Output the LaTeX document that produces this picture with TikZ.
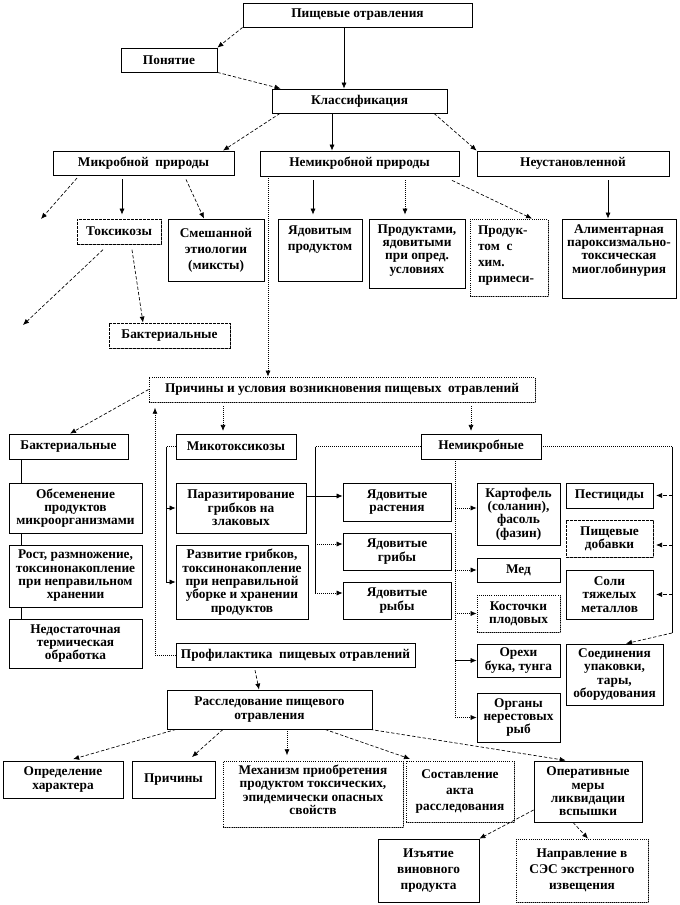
\documentclass[tikz,border=0pt]{standalone}
\usepackage{fontspec}
\setmainfont{Liberation Serif}
\usetikzlibrary{arrows.meta,shadows}
\tikzset{
 box/.style={draw=black,line width=0.6pt,fill=white,inner sep=0pt,
   font=\bfseries\fontsize{10}{10}\selectfont,
   drop shadow={shadow xshift=0.7pt,shadow yshift=-0.7pt,fill=black!45,opacity=1}},
 dbox/.style={densely dotted},
 hbox/.style={dash pattern=on 2pt off 1pt},
 con/.style={line width=0.5pt,-{Latex[length=4.5pt,width=3.8pt]}},
 ln/.style={line width=0.5pt},
 dsh/.style={dash pattern=on 2.5pt off 1.5pt},
 dtt/.style={densely dotted},
}
\newcommand\bx[8][c]{%
 \pgfmathsetmacro\mybw{(#6-#4)*0.75}%
 \pgfmathsetmacro\mybh{(#7-#5)*0.75}%
 \node[box,#2] (#3) at ({(#4+#6)/2},{(#5+#7)/2}) {\parbox[c][\mybh pt][#1]{\mybw pt}{\centering #8\par}};%
}
\begin{document}
\begin{tikzpicture}[x=0.75pt,y=-0.75pt]
\useasboundingbox (0,0) rectangle (679,905);
\foreach \v in {21,68,70,77,103,122,132,143,155,166,176,186,188,204,223,255,259,268,280,287,313,315,325,332,344,370,405,415,434,452,455,471,532,567,573,588,608,626,672}
  \coordinate (c\v) at (\v,0);
\foreach \v in {496,508,544,545,593,633,810}
  \coordinate (r\v) at (0,\v);
\coordinate (f1) at (41,219);
\coordinate (f2) at (23,325);

% top levels
\bx{}{pisch}{243}{3}{472}{27}{Пищевые отравления}
\bx{}{pon}{121}{48}{217}{72}{Понятие}
\bx{}{klass}{272}{89}{447}{113}{Классификация}
\bx{}{mikr}{53}{151}{234}{175}{Микробной\ \ природы}
\bx{}{nemikr}{260}{151}{459}{176}{Немикробной природы}
\bx{}{neust}{477}{151}{669}{176}{Неустановленной}
\bx{hbox}{toks}{77}{219}{161}{244}{Токсикозы}
\bx{}{smesh}{168}{219}{264}{281}{Смешанной\\[2pt]этиологии\\[2pt](миксты)}
\bx[t]{}{yadprod}{278}{219}{362}{281}{\vspace*{5pt}Ядовитым\\[2pt]продуктом}
\bx[t]{}{prodopr}{369}{219}{465}{288}{\vspace*{4pt}Продуктами,\\ядовитыми\\при опред.\\условиях}
\bx[t]{dbox}{prodhim}{470}{219}{548}{296}{\raggedright\leftskip=6pt\vspace*{5pt}Продук-\\[2pt]том\ \ с\\[2pt]хим.\\[2pt]примеси-}
\bx[t]{}{alim}{562}{219}{676}{298}{\vspace*{4pt}Алиментарная\\пароксизмально-\\токсическая\\миоглобинурия}
\bx{hbox}{bakt1}{109}{323}{230}{348}{Бактериальные}

\bx{dbox}{prich}{149}{377}{535}{402}{Причины и условия возникновения пищевых\ \ отравлений}
\bx{}{bakt2}{9}{434}{128}{459}{Бактериальные}
\bx{}{mikot}{176}{434}{296}{459}{Микотоксикозы}
\bx{}{nemb}{421}{434}{541}{459}{Немикробные}
\bx{}{obsem}{9}{483}{142}{533}{Обсеменение\\продуктов\\микроорганизмами}
\bx{}{rost}{9}{545}{142}{607}{Рост, размножение,\\токсинонакопление\\при неправильном\\хранении}
\bx{}{nedost}{9}{619}{142}{668}{Недостаточная\\термическая\\обработка}
\bx{}{paraz}{176}{483}{306}{533}{Паразитирование\\грибков на\\злаковых}
\bx{}{razv}{176}{545}{308}{619}{Развитие грибков,\\токсинонакопление\\при неправильной\\уборке и хранении\\продуктов}
\bx{}{yrast}{343}{483}{451}{521}{Ядовитые\\растения}
\bx{}{ygrib}{343}{533}{451}{570}{Ядовитые\\грибы}
\bx{}{yryb}{343}{582}{451}{619}{Ядовитые\\рыбы}
\bx{}{kart}{477}{483}{560}{545}{Картофель\\(соланин),\\фасоль\\(фазин)}
\bx{}{med}{477}{558}{560}{582}{Мед}
\bx{dbox}{kost}{477}{595}{560}{632}{Косточки\\плодовых}
\bx{}{oreh}{477}{644}{560}{677}{Орехи\\бука, тунга}
\bx{}{organ}{477}{693}{560}{742}{Органы\\нерестовых\\рыб}
\bx{}{pest}{566}{483}{653}{508}{Пестициды}
\bx{hbox}{pdob}{566}{520}{653}{557}{Пищевые\\добавки}
\bx{}{soli}{566}{570}{653}{619}{Соли\\тяжелых\\металлов}
\bx{}{soed}{566}{644}{663}{705}{Соединения\\упаковки,\\тары,\\оборудования}

\bx{}{prof}{176}{643}{415}{667}{Профилактика\ \ пищевых отравлений}
\bx{}{rass}{167}{690}{372}{729}{Расследование пищевого\\отравления}
\bx{}{opred}{3}{761}{123}{798}{Определение\\характера}
\bx{}{prichs}{132}{761}{215}{798}{Причины}
\bx[t]{dbox}{mech}{223}{761}{403}{827}{\vspace*{3pt}Механизм приобретения\\продуктом токсических,\\эпидемически опасных\\свойств}
\bx{dbox}{sost}{406}{761}{514}{822}{Составление\\[2pt]акта\\[2pt]расследования}
\bx{}{oper}{534}{761}{642}{822}{Оперативные\\меры\\ликвидации\\вспышки}
\bx{}{izj}{378}{839}{479}{902}{Изъятие\\[2pt]виновного\\[2pt]продукта}
\bx{dbox}{napr}{516}{839}{648}{902}{Направление в\\[2pt]СЭС экстренного\\[2pt]извещения}

% connectors, top part
\draw[con,dsh] (pisch.south west) -- (pon.north east);
\draw[con] (pisch.south -| c344) -- (klass.north -| c344);
\draw[con,dsh] (pon.south east) -- ([xshift=6.75pt]klass.north west);
\draw[con,dsh] (klass.south -| c280) -- (mikr.north -| c223);
\draw[con] (klass.south -| c332) -- (nemikr.north -| c332);
\draw[con,dsh] (klass.south -| c434) -- (neust.north west);
\draw[con,dsh] ([yshift=-2pt]mikr.south -| c77) -- (f1);
\draw[con] ([yshift=-3pt]mikr.south -| c122) -- ([yshift=3pt]toks.north -| c122);
\draw[con,dsh] ([yshift=-3pt]mikr.south -| c186) -- (smesh.north -| c204);
\draw[con] ([yshift=-3pt]nemikr.south -| c313) -- ([yshift=3pt]yadprod.north -| c313);
\draw[con,dtt] ([yshift=-3pt]nemikr.south -| c405) -- ([yshift=3pt]prodopr.north -| c405);
\draw[con,dsh] ([yshift=-3pt]nemikr.south -| c452) -- (prodhim.north -| c532);
\draw[con] ([yshift=-3pt]neust.south -| c608) -- (alim.north -| c608);
\draw[con,dsh] ([yshift=-4pt]toks.south -| c103) -- (f2);
\draw[con,dsh] ([yshift=-4pt]toks.south -| c132) -- (bakt1.north -| c143);
\draw[con,dtt] (nemikr.south -| c268) -- (prich.north -| c268);

% causes
\draw[con,dsh] (prich.west) -- (bakt2.north -| c70);
\draw[con,dtt] ([yshift=-3pt]prich.south -| c223) -- ([yshift=2pt]mikot.north -| c223);
\draw[con,dtt] ([yshift=-3pt]prich.south -| c471) -- ([yshift=2pt]nemb.north -| c471);
\draw[ln] (bakt2.south -| c21) -- (obsem.north -| c21);
\draw[ln] (obsem.south -| c21) -- (rost.north -| c21);
\draw[ln] (rost.south -| c21) -- (nedost.north -| c21);
\draw[ln,dtt] (mikot.west) -- (mikot.west -| c166);
\draw[ln] (mikot.west -| c166) -- (razv.west -| c166);
\draw[con] (paraz.west -| c166) -- (paraz.west);
\draw[con] (razv.west -| c166) -- (razv.west);
\draw[ln,dtt] (nemb.west) -- (nemb.west -| c315);
\draw[ln] (nemb.west -| c315) -- (c315 |- r593);
\draw[con] (paraz.east |- r496) -- (yrast.west |- r496);
\draw[con,dtt] (c315 |- r544) -- (ygrib.west |- r544);
\draw[con,dtt] (c315 |- r593) -- (yryb.west |- r593);
\draw[ln,dtt] (nemb.south -| c455) -- (organ.west -| c455);
\draw[con,dtt] (c455 |- r508) -- (kart.west |- r508);
\draw[con,dtt] (med.west -| c455) -- (med.west);
\draw[con,dtt] (kost.west -| c455) -- (kost.west);
\draw[con] (oreh.west -| c455) -- (oreh.west);
\draw[con,dtt] (organ.west -| c455) -- (organ.west);
\draw[ln,dtt] (nemb.east) -- (nemb.east -| c672);
\draw[ln] (nemb.east -| c672) -- (c672 |- r633);
\draw[con,dsh] (c672 |- pest.east) -- ([xshift=2pt]pest.east);
\draw[con,dsh] (c672 |- r545) -- ([xshift=2pt]pdob.east |- r545);
\draw[con,dsh] (c672 |- soli.east) -- ([xshift=2pt]soli.east);
\draw[con,dsh] (c672 |- r633) -- (soed.north -| c626);

% prophylaxis and investigation
\draw[con,dtt,shorten >=4pt] (prof.west) -- (prof.west -| c155) -- (prich.south -| c155);
\draw[con,dsh] ([yshift=-2pt]prof.south -| c255) -- (rass.north -| c259);
\draw[con,dsh,shorten >=4pt] (rass.south -| c176) -- (opred.north -| c68);
\draw[con,dsh,shorten >=4pt] (rass.south -| c223) -- (prichs.north -| c188);
\draw[con,dtt,shorten >=4pt] (rass.south -| c287) -- (mech.north -| c287);
\draw[con,dsh,shorten >=4pt] (rass.south -| c325) -- (sost.north -| c415);
\draw[con,dsh,shorten >=1pt] (rass.south -| c370) -- (oper.north -| c567);
\draw[con,dsh] (oper.west |- r810) -- (izj.north east);
\draw[con,dsh] (oper.south -| c573) -- (napr.north -| c588);
\end{tikzpicture}
\end{document}
